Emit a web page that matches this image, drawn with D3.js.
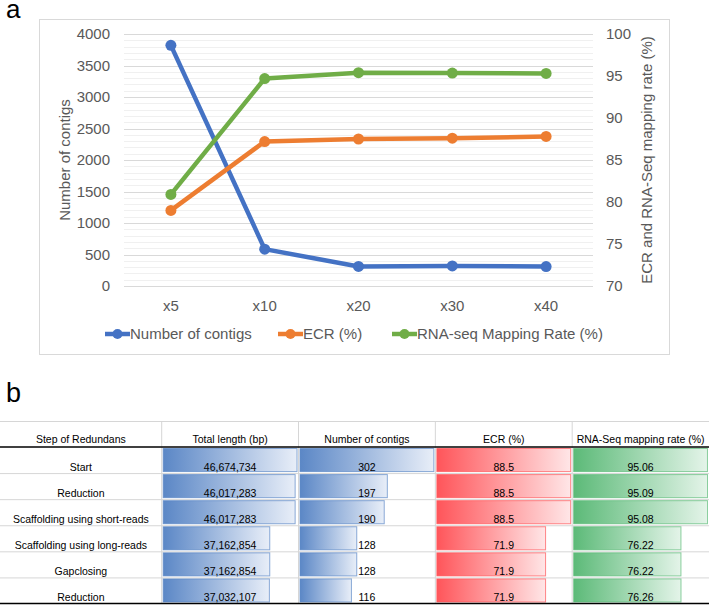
<!DOCTYPE html>
<html>
<head>
<meta charset="utf-8">
<script src="https://cdn.jsdelivr.net/npm/d3@7"></script>
<style>
  body { margin: 0; background: #fff; }
  svg { display: block; font-family: "Liberation Sans", Arial, sans-serif; }
</style>
</head>
<body>
<div id="graf"></div>
<script>
// Data, panel a
const coverage = ["x5", "x10", "x20", "x30", "x40"]
const contigs = [3820, 585, 310, 318, 308]
const ecr = [79.0, 87.2, 87.5, 87.6, 87.8]
const rnaRate = [80.9, 94.7, 95.4, 95.35, 95.3]
const leftTicks = [0, 500, 1000, 1500, 2000, 2500, 3000, 3500, 4000]
const rightTicks = [70, 75, 80, 85, 90, 95, 100]

// Data, panel b
const headers = ["Step of Redundans", "Total length (bp)", "Number of contigs", "ECR (%)", "RNA-Seq mapping rate (%)"]
const steps = ["Start", "Reduction", "Scaffolding using short-reads", "Scaffolding using long-reads", "Gapclosing", "Reduction"]
const totalLength = [46674734, 46017283, 46017283, 37162854, 37162854, 37032107]
const numContigs = [302, 197, 190, 128, 128, 116]
const ecrTable = [88.5, 88.5, 88.5, 71.9, 71.9, 71.9]
const mappingRate = [95.06, 95.09, 95.08, 76.22, 76.22, 76.26]

const W = 709, H = 606
const svg = d3.select("#graf").append("svg").attr("width", W).attr("height", H)

const txt = "#595959"
const azul = "#4472C4", naranja = "#ED7D31", verde = "#70AD47"

// ---------- panel a ----------
svg.append("text").attr("x", 6).attr("y", 18).attr("font-size", 26).attr("fill", "#000").text("a")

svg.append("rect")
  .attr("x", 39.5).attr("y", 19.5).attr("width", 630).attr("height", 335)
  .attr("fill", "#fff").attr("stroke", "#d9d9d9")

const plot = { left: 124, right: 593, top: 34, bottom: 286 }

const x = d3.scaleBand().domain(coverage).range([plot.left, plot.right])
const y = d3.scaleLinear().domain([0, 4000]).range([plot.bottom, plot.top])
const y2 = d3.scaleLinear().domain([70, 100]).range([plot.bottom, plot.top])

const g = svg.append("g")

// grid menor y mayor
g.selectAll("line.menor")
  .data(d3.range(0, 4001, 100).filter((d) => d % 500 !== 0))
  .join("line")
  .attr("x1", plot.left).attr("x2", plot.right)
  .attr("y1", (d) => Math.round(y(d)) + 0.5).attr("y2", (d) => Math.round(y(d)) + 0.5)
  .attr("stroke", "#f0f0f0")

g.selectAll("line.mayor")
  .data(leftTicks)
  .join("line")
  .attr("x1", plot.left).attr("x2", plot.right)
  .attr("y1", (d) => Math.round(y(d)) + 0.5).attr("y2", (d) => Math.round(y(d)) + 0.5)
  .attr("stroke", "#d9d9d9")

// Ejes
const yAxisGroup = g.append("g")
  .attr("transform", `translate(${plot.left - 14}, 0)`)
  .call(d3.axisLeft(y).tickValues(leftTicks).tickFormat(d3.format("d")).tickSize(0).tickPadding(0))
const y2AxisGroup = g.append("g")
  .attr("transform", `translate(${plot.right + 13}, 0)`)
  .call(d3.axisRight(y2).tickValues(rightTicks).tickFormat(d3.format("d")).tickSize(0).tickPadding(0))
const xAxisGroup = g.append("g")
  .attr("transform", `translate(0, ${plot.bottom + 14})`)
  .call(d3.axisBottom(x).tickSize(0).tickPadding(0))

;[yAxisGroup, y2AxisGroup, xAxisGroup].forEach((a) => {
  a.select(".domain").remove()
  a.selectAll("text").attr("font-size", 15).attr("fill", txt).attr("font-family", null)
})
xAxisGroup.selectAll("text").attr("dy", "0.71em")

g.append("text")
  .attr("transform", `translate(70, ${(plot.top + plot.bottom) / 2}) rotate(-90)`)
  .attr("text-anchor", "middle").attr("font-size", 15).attr("fill", txt)
  .text("Number of contigs")
g.append("text")
  .attr("transform", `translate(652, ${(plot.top + plot.bottom) / 2}) rotate(-90)`)
  .attr("text-anchor", "middle").attr("font-size", 15).attr("fill", txt)
  .text("ECR and RNA-Seq mapping rate (%)")

const series = [
  { name: "Number of contigs", values: contigs, scale: y, color: azul },
  { name: "ECR (%)", values: ecr, scale: y2, color: naranja },
  { name: "RNA-seq Mapping Rate (%)", values: rnaRate, scale: y2, color: verde }
]

const cx = (i) => x(coverage[i]) + x.bandwidth() / 2

series.forEach((s) => {
  const line = d3.line().x((d, i) => cx(i)).y((d) => s.scale(d))
  g.append("path")
    .attr("d", line(s.values))
    .attr("fill", "none").attr("stroke", s.color)
    .attr("stroke-width", 4.5).attr("stroke-linejoin", "round")
  g.selectAll(null)
    .data(s.values)
    .join("circle")
    .attr("cx", (d, i) => cx(i)).attr("cy", (d) => s.scale(d))
    .attr("r", 5.5).attr("fill", s.color)
})

// Leyenda
const legX = [105, 278, 392]
const leg = g.selectAll("g.leg").data(series).join("g")
  .attr("transform", (d, i) => `translate(${legX[i]}, 334)`)
leg.append("line").attr("x1", 0).attr("x2", 25).attr("stroke", (d) => d.color).attr("stroke-width", 4.5)
leg.append("circle").attr("cx", 12.5).attr("r", 5).attr("fill", (d) => d.color)
leg.append("text").attr("x", 25).attr("dy", "0.35em").attr("font-size", 15).attr("fill", txt).text((d) => d.name)

// ---------- panel b ----------
svg.append("text").attr("x", 6).attr("y", 402).attr("font-size", 27).attr("fill", "#000").text("b")

const cols = [
  { values: totalLength, fmt: d3.format(","), color: "#5B87C6", end: "#E8EEF8" },
  { values: numContigs, fmt: String, color: "#5B87C6", end: "#E8EEF8" },
  { values: ecrTable, fmt: String, color: "#FF555A", end: "#FFE6E7" },
  { values: mappingRate, fmt: String, color: "#5CBA78", end: "#E4F4E9" }
]

const defs = svg.append("defs")
cols.forEach((c, i) => {
  const lg = defs.append("linearGradient").attr("id", "grad" + i)
  lg.append("stop").attr("offset", "0%").attr("stop-color", c.color)
  lg.append("stop").attr("offset", "100%").attr("stop-color", c.end)
})

const tableTop = 421, headBottom = 447, tableBottom = 603.5, firstColRight = 161.7
const rowY = d3.scaleBand().domain(d3.range(steps.length)).range([headBottom, tableBottom])
const colX = d3.scaleBand().domain(d3.range(cols.length)).range([firstColRight, W])

const t = svg.append("g").attr("font-size", 10.5).attr("fill", "#000")

// lineas
t.append("line").attr("x1", 0).attr("x2", W).attr("y1", tableTop + 0.5).attr("y2", tableTop + 0.5).attr("stroke", "#d6d6d6")
t.selectAll("line.fila")
  .data(d3.range(1, steps.length))
  .join("line")
  .attr("x1", 0).attr("x2", W)
  .attr("y1", (d) => rowY(d) + 0.5).attr("y2", (d) => rowY(d) + 0.5)
  .attr("stroke", "#d6d6d6")
t.selectAll("line.col")
  .data(d3.range(cols.length))
  .join("line")
  .attr("x1", (d) => colX(d)).attr("x2", (d) => colX(d))
  .attr("y1", tableTop).attr("y2", tableBottom)
  .attr("stroke", "#d6d6d6")

// encabezado
t.selectAll("text.head")
  .data(headers)
  .join("text")
  .attr("x", (d, i) => i === 0 ? firstColRight / 2 : colX(i - 1) + colX.bandwidth() / 2)
  .attr("y", headBottom - 4)
  .attr("text-anchor", "middle")
  .text((d) => d)

// barras
cols.forEach((c, ci) => {
  const xs = d3.scaleLinear().domain([0, d3.max(c.values)]).range([0, colX.bandwidth() - 3])
  t.selectAll(null)
    .data(c.values)
    .join("rect")
    .attr("x", colX(ci) + 1.5)
    .attr("y", (d, i) => rowY(i) + 1.5)
    .attr("width", (d) => xs(d))
    .attr("height", rowY.bandwidth() - 3)
    .attr("fill", `url(#grad${ci})`)
    .attr("stroke", c.color).attr("stroke-opacity", 0.7).attr("stroke-width", 1)
  t.selectAll(null)
    .data(c.values)
    .join("text")
    .attr("x", colX(ci) + colX.bandwidth() / 2)
    .attr("y", (d, i) => rowY(i) + rowY.bandwidth() - 2.5)
    .attr("text-anchor", "middle")
    .text((d) => c.fmt(d))
})

t.selectAll("text.step")
  .data(steps)
  .join("text")
  .attr("x", firstColRight / 2)
  .attr("y", (d, i) => rowY(i) + rowY.bandwidth() - 2.5)
  .attr("text-anchor", "middle")
  .text((d) => d)

t.append("line").attr("x1", 0).attr("x2", W).attr("y1", headBottom).attr("y2", headBottom).attr("stroke", "#000").attr("stroke-width", 1.5)
t.append("line").attr("x1", 0).attr("x2", W).attr("y1", tableBottom).attr("y2", tableBottom).attr("stroke", "#000").attr("stroke-width", 1.5)
</script>
</body>
</html>
